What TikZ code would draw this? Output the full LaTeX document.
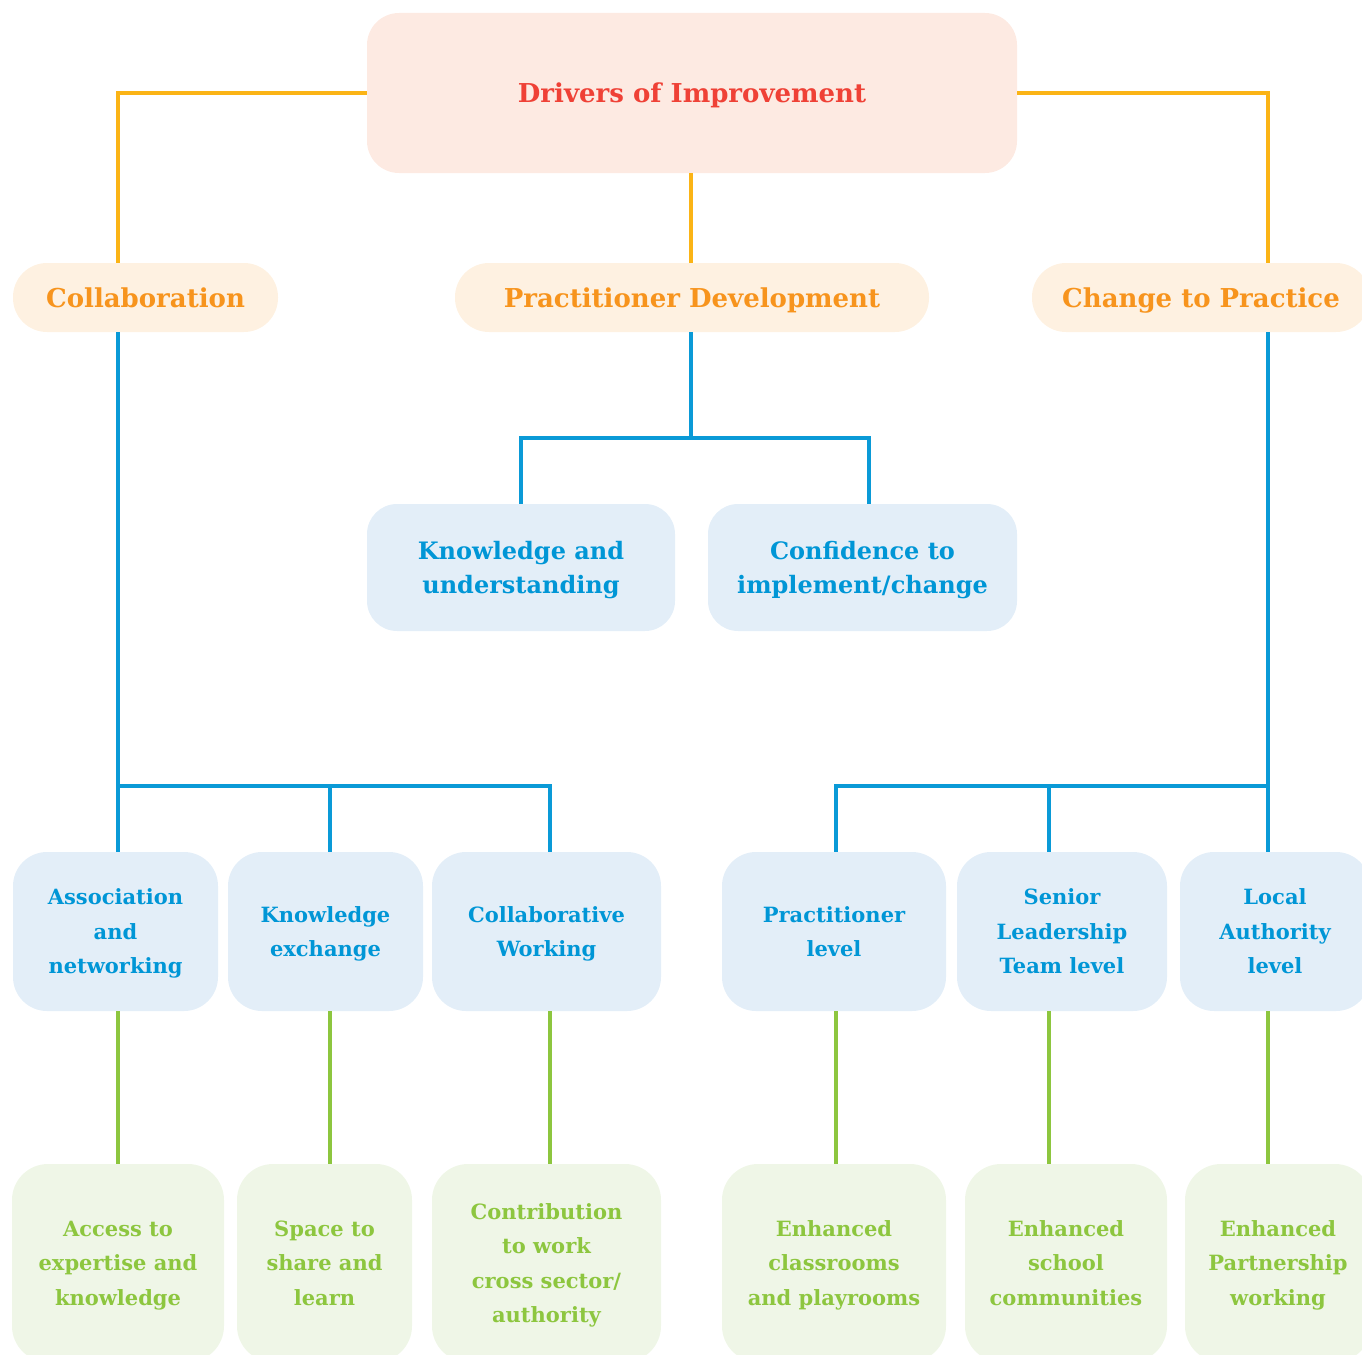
\documentclass[tikz,border=0pt]{standalone}
\usepackage{fontspec}
\setmainfont{DejaVu Serif}
\usepackage{xcolor}
\usepackage{tikz}
\usetikzlibrary{calc, positioning}

\definecolor{goldline}{HTML}{FBB416}
\definecolor{blueline}{HTML}{0A9AD7}
\definecolor{greenline}{HTML}{8DC63F}
\definecolor{redtxt}{HTML}{EF4136}
\definecolor{salmonfill}{HTML}{FDEAE2}
\definecolor{orangetxt}{HTML}{F7941D}
\definecolor{creamfill}{HTML}{FEF1E1}
\definecolor{bluetxt}{HTML}{0096D6}
\definecolor{bluefill}{HTML}{E3EEF8}
\definecolor{greenfill}{HTML}{EFF6E7}

\begin{document}
\begin{tikzpicture}[
    x=1pt, y=-1pt,
    box/.style={rounded corners=#1, align=center, inner sep=0pt, text depth=0pt,
      font=\bfseries\fontsize{21}{34.5}\selectfont},
    topbox/.style={box=32pt, fill=salmonfill, text=redtxt,
      minimum width=650pt, minimum height=160pt,
      font=\bfseries\fontsize{26}{34}\selectfont},
    themebox/.style={box=34pt, fill=creamfill, text=orangetxt,
      minimum height=69pt, font=\bfseries\fontsize{26}{34}\selectfont},
    midbox/.style={box=30pt, fill=bluefill, text=bluetxt,
      minimum height=127pt, font=\bfseries\fontsize{24}{34}\selectfont},
    levelbox/.style={box=34pt, fill=bluefill, text=bluetxt,
      minimum height=159pt},
    outbox/.style={box=36pt, fill=greenfill, text=greenline,
      minimum height=198pt},
    gold/.style={draw=goldline, line width=3.2pt},
    blue/.style={draw=blueline, line width=3.2pt},
    green/.style={draw=greenline, line width=3.2pt}
  ]
  \useasboundingbox (0,0) rectangle (1362,1354);

  % drivers
  \node[topbox] (drivers) at (692,93) {Drivers of Improvement};

  % themes
  \node[themebox, minimum width=265pt] (collab) at (145.5,297.5) {Collaboration};
  \node[themebox, minimum width=474pt] (pracdev) at (692,297.5) {Practitioner Development};
  \node[themebox, minimum width=338pt] (change) at (1201,297.5) {Change to Practice};

  % practitioner development
  \node[midbox, minimum width=308pt] (knowund) at (521,567.5) {Knowledge and\\understanding};
  \node[midbox, minimum width=309pt] (confid) at (862.5,567.5) {Confidence to\\implement/change};

  % levels
  \node[levelbox, minimum width=205pt] (assoc) at (115.5,931.5) {Association\\and\\networking};
  \node[levelbox, minimum width=195pt] (knowex) at (325.5,931.5) {Knowledge\\exchange};
  \node[levelbox, minimum width=229pt] (collabw) at (546.5,931.5) {Collaborative\\Working};
  \node[levelbox, minimum width=224pt] (praclev) at (834,931.5) {Practitioner\\level};
  \node[levelbox, minimum width=210pt] (senior) at (1062,931.5) {Senior\\Leadership\\Team level};
  \node[levelbox, minimum width=190pt] (localauth) at (1275,931.5) {Local\\Authority\\level};

  % outcomes
  \node[outbox, minimum width=212pt] (access) at (118,1263) {Access to\\expertise and\\knowledge};
  \node[outbox, minimum width=175pt] (space) at (324.5,1263) {Space to\\share and\\learn};
  \node[outbox, minimum width=229pt] (contrib) at (546.5,1263) {Contribution\\to work\\cross sector/\\authority};
  \node[outbox, minimum width=224pt] (enhclass) at (834,1263) {Enhanced\\classrooms\\and playrooms};
  \node[outbox, minimum width=202pt] (enhschool) at (1066,1263) {Enhanced\\school\\communities};
  \node[outbox, minimum width=186pt] (enhpart) at (1278,1263) {Enhanced\\Partnership\\working};

  % connector columns
  \coordinate (c1) at (118,786);
  \coordinate (c2) at (330,786);
  \coordinate (c3) at (550,786);
  \coordinate (c4) at (836,786);
  \coordinate (c5) at (1049,786);
  \coordinate (c6) at (1268,786);
  \coordinate (pd) at (691,438);

  % gold links
  \draw[gold] (drivers.west) -| (collab.north -| c1);
  \draw[gold] (drivers.east) -| (change.north -| c6);
  \draw[gold] (drivers.south -| pd) -- (pracdev.north -| pd);

  % blue links
  \draw[blue] (collab.south -| c1) -- (assoc.north -| c1);
  \draw[blue] (c1) -- (c3) -- (collabw.north -| c3);
  \draw[blue] (c2) -- (knowex.north -| c2);
  \draw[blue] (pracdev.south -| pd) -- (pd);
  \draw[blue] (knowund.north) |- (pd) -| (confid.north -| 869,0);
  \draw[blue] (change.south -| c6) -- (localauth.north -| c6);
  \draw[blue] (c6) -- (c4) -- (praclev.north -| c4);
  \draw[blue] (c5) -- (senior.north -| c5);

  % green links
  \draw[green] (assoc.south -| c1) -- (access.north -| c1);
  \draw[green] (knowex.south -| c2) -- (space.north -| c2);
  \draw[green] (collabw.south -| c3) -- (contrib.north -| c3);
  \draw[green] (praclev.south -| c4) -- (enhclass.north -| c4);
  \draw[green] (senior.south -| c5) -- (enhschool.north -| c5);
  \draw[green] (localauth.south -| c6) -- (enhpart.north -| c6);
\end{tikzpicture}
\end{document}
